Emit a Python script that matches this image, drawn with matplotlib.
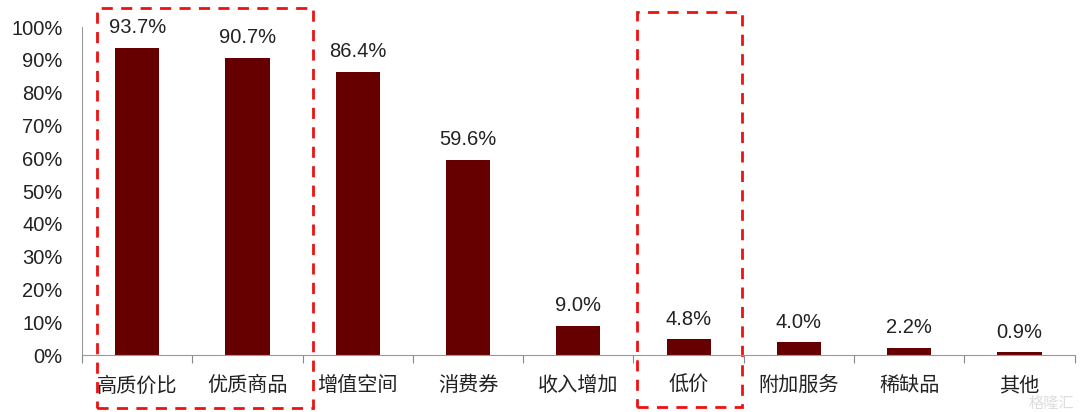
import matplotlib
matplotlib.use("Agg")
import matplotlib.pyplot as plt
from matplotlib.patches import Rectangle
from matplotlib.ticker import PercentFormatter

plt.rcParams['font.family'] = ['Liberation Sans', 'Noto Sans CJK SC', 'DejaVu Sans']

categories = ['高质价比', '优质商品', '增值空间', '消费券', '收入增加', '低价', '附加服务', '稀缺品', '其他']
values = [93.7, 90.7, 86.4, 59.6, 9.0, 4.8, 4.0, 2.2, 0.9]
labels = ['93.7%', '90.7%', '86.4%', '59.6%', '9.0%', '4.8%', '4.0%', '2.2%', '0.9%']

fig = plt.figure(figsize=(10.8, 4.12), dpi=100)
ax = fig.add_axes([0.076, 0.138, 0.919, 0.796])

x = list(range(len(categories)))
ax.bar(x, values, width=0.4, color='#660000')
for xi, v, lab in zip(x, values, labels):
    ax.text(xi, v + 3.2, lab, ha='center', va='bottom', fontsize=14.5, color='#222222')

ax.set_xlim(-0.5, len(categories) - 0.5)
ax.set_ylim(0, 100)
ax.set_yticks(range(0, 101, 10))
ax.yaxis.set_major_formatter(PercentFormatter(decimals=0))
ax.tick_params(axis='y', length=0, labelsize=14.5, pad=14, labelcolor='#222222')

ax.set_xticks([i - 0.5 for i in range(len(categories) + 1)])
ax.set_xticklabels([])
ax.set_xticks(x, minor=True)
ax.set_xticklabels(categories, minor=True)
ax.tick_params(axis='x', which='major', length=6, color='#888888', direction='out')
ax.tick_params(axis='x', which='minor', length=0, labelsize=14.5, pad=15, labelcolor='#222222')

for s in ['top', 'right']:
    ax.spines[s].set_visible(False)
ax.spines['left'].set_color('#999999')
ax.spines['bottom'].set_color('#999999')

# red dashed highlight boxes
for x0, x1, y0, y1 in [(-0.364, 1.594, -16.2, 105.8), (4.53, 5.48, -15.9, 104.6)]:
    ax.add_patch(Rectangle((x0, y0), x1 - x0, y1 - y0, fill=False, edgecolor='#ee1111',
                           linestyle=(0, (4, 3)), linewidth=2, clip_on=False))

fig.text(0.995, 0.003, '格隆汇', ha='right', va='bottom', fontsize=11, color='#dddddd')

fig.savefig('out.png', dpi=100)
